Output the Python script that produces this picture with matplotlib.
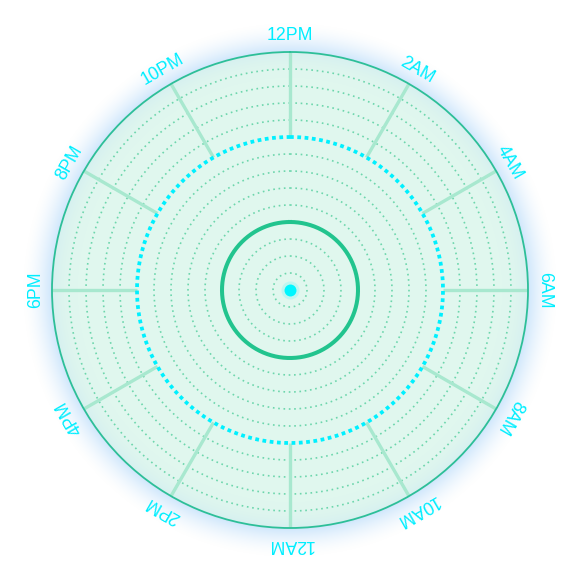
import numpy as np
import matplotlib.pyplot as plt

hours = ['12PM', '2AM', '4AM', '6AM', '8AM', '10AM',
         '12AM', '2PM', '4PM', '6PM', '8PM', '10PM']
rings = [1, 2, 3, 5, 6, 7, 8, 10, 11, 12, 13]
inner_ring = 4
mid_ring = 9
outer_ring = 14

W = 580
R_PX = 238

fig = plt.figure(figsize=(5.8, 5.8), dpi=100)

# background: mint disc + soft blue glow around it
bg = fig.add_axes([0, 0, 1, 1])
bg.set_axis_off()
yy, xx = np.mgrid[0:W, 0:W] + 0.5
d = np.hypot(xx - 290, yy - 290)
img = np.zeros((W, W, 4))
mint = np.array([224, 247, 238]) / 255
edge = np.array([214, 240, 240]) / 255
glow = np.array([198, 226, 251]) / 255
t = np.clip((d - 212) / (R_PX - 212), 0, 1)[..., None] ** 2
inside = d <= R_PX
img[..., :3] = np.where(inside[..., None], mint * (1 - t) + edge * t, glow)
ga = np.clip(1 - (d - R_PX) / 30, 0, 1) ** 1.7 * 0.85
img[..., 3] = np.where(inside, 1.0, ga)
bg.imshow(img, extent=[0, W, W, 0], interpolation='bilinear')
bg.set_xlim(0, W)
bg.set_ylim(W, 0)

ax = fig.add_axes([(290 - R_PX) / W, (290 - R_PX) / W, 2 * R_PX / W, 2 * R_PX / W],
                  projection='polar')
ax.patch.set_alpha(0)
ax.set_theta_zero_location('N')
ax.set_theta_direction(-1)
ax.set_ylim(0, outer_ring)
ax.grid(False)
ax.set_xticks([])
ax.set_yticks([])
ax.spines['polar'].set_color('#2dbf98')
ax.spines['polar'].set_linewidth(1.3)

th = np.linspace(0, 2 * np.pi, 721)
for r in rings:
    ax.plot(th, np.full_like(th, r), color='#6dd6ac', lw=1.2,
            linestyle=(0, (1, 2.2)))

angles = np.arange(len(hours)) * 2 * np.pi / len(hours)
for a in angles:
    ax.plot([a, a], [mid_ring, outer_ring], color='#a8e8cf', lw=2.4,
            solid_capstyle='butt')

ax.plot(th, np.full_like(th, mid_ring), color='#00f0ff', lw=2.7,
        linestyle=(0, (1, 0.95)))
ax.plot(th, np.full_like(th, inner_ring), color='#22c48e', lw=2.9)

ax.plot([0], [0], 'o', color='#00f6ff', ms=13, alpha=0.15, mec='none')
ax.plot([0], [0], 'o', color='#00f6ff', ms=8.6, mec='none')

for a, lab in zip(angles, hours):
    ax.text(a, 14.95, lab, rotation=-np.degrees(a), rotation_mode='anchor',
            ha='center', va='center', color='#00eeff', fontsize=12.8,
            family='Liberation Sans', clip_on=False)

fig.savefig('out.png', dpi=100)
